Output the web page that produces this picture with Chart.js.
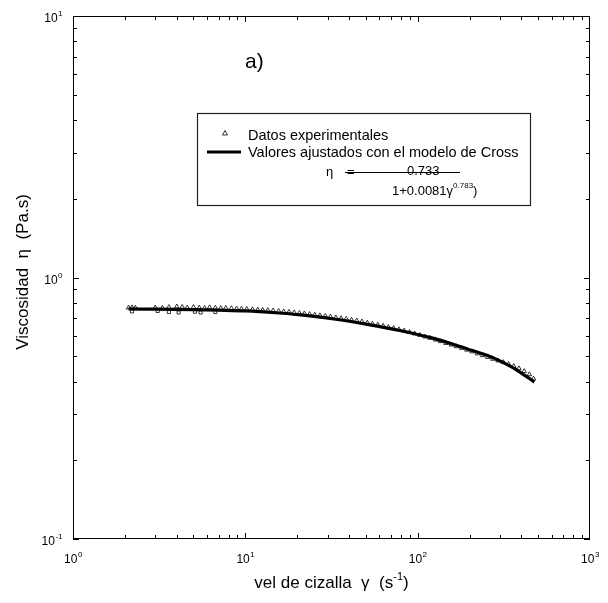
<!DOCTYPE html>
<html>
<head>
<meta charset="utf-8">
<script src="https://cdn.jsdelivr.net/npm/chart.js@4"></script>
<style>
  body { margin: 0; background: #fff; }
  #wrap { width: 608px; height: 603px; }
</style>
</head>
<body>
<div id="wrap"><canvas id="crossChart" width="608" height="603"></canvas></div>
<script>
// experimental data (triangles)
const shearExp = [2.1, 2.2, 2.3, 3.0, 3.3, 3.6, 4.0, 4.3, 4.6, 5.0, 5.4, 5.8, 6.2, 6.7, 7.2, 7.7, 8.3, 8.9, 9.5,
    10.2, 11, 11.8, 12.6, 13.5, 14.5, 15.6, 16.7, 17.9, 19.2, 20.6, 22, 23.6, 25.3, 27.1, 29.1, 31.2, 33.5,
    35.9, 38.5, 41.3, 44.3, 47.5, 51, 54.7, 58.7, 63, 67.6, 72.5, 77.8, 83.5, 89.6, 96, 103, 110, 118, 127,
    136, 146, 157, 168, 180, 193, 207, 222, 238, 255, 273, 293, 314, 337, 361, 387, 415, 445, 470];
const viscExp = [0.766, 0.768, 0.765, 0.767, 0.765, 0.770, 0.774, 0.771, 0.767, 0.770, 0.766, 0.764, 0.768,
    0.765, 0.763, 0.764, 0.762, 0.760, 0.759, 0.757, 0.755, 0.753, 0.751, 0.749, 0.747, 0.744, 0.741, 0.738,
    0.735, 0.731, 0.728, 0.724, 0.720, 0.716, 0.712, 0.708, 0.703, 0.698, 0.694, 0.689, 0.684, 0.678, 0.671,
    0.665, 0.659, 0.653, 0.646, 0.640, 0.633, 0.626, 0.618, 0.610, 0.602, 0.594, 0.587, 0.578, 0.570, 0.561,
    0.553, 0.545, 0.537, 0.529, 0.521, 0.512, 0.504, 0.496, 0.488, 0.481, 0.474, 0.466, 0.458, 0.449, 0.438,
    0.426, 0.410];

// low-shear points sitting under the fitted line
const shearRect = [2.2, 3.1, 3.6, 4.1, 5.1, 5.5, 6.7];
const viscRect = [0.742, 0.745, 0.738, 0.735, 0.740, 0.735, 0.738];

// fitted Cross model curve
const shearFit = [2.1, 3, 5, 7, 10, 15, 21, 32.6, 51, 80, 124, 194, 250, 304, 350, 397, 440, 475];
const viscFit = [0.758, 0.757, 0.754, 0.750, 0.745, 0.733, 0.719, 0.694, 0.662, 0.626, 0.585, 0.533,
    0.505, 0.478, 0.455, 0.432, 0.413, 0.398];

const xTicks = [1, 10, 100, 1000];
const xTickExp = ['0', '1', '2', '3'];
const yTicks = [0.1, 1, 10];
const yTickExp = ['-1', '0', '1'];

const FONT = 'Liberation Sans, Arial, sans-serif';

function toPoints(xs, ys) {
    return xs.map((x, i) => ({ x: x, y: ys[i] }));
}

function drawPow(ctx, base, exp, x, y, align) {
    ctx.font = '12px ' + FONT;
    const wb = ctx.measureText(base).width;
    ctx.font = '8px ' + FONT;
    const we = ctx.measureText(exp).width;
    let start = x;
    if (align === 'center') start = x - (wb + we) / 2;
    if (align === 'right') start = x - (wb + we);
    ctx.textAlign = 'left';
    ctx.textBaseline = 'middle';
    ctx.font = '12px ' + FONT;
    ctx.fillText(base, start, y);
    ctx.font = '8px ' + FONT;
    ctx.fillText(exp, start + wb + 0.5, y - 5);
}

const decorPlugin = {
    id: 'decor',
    afterDraw(chart) {
        const ctx = chart.ctx;
        const a = chart.chartArea;
        const xs = chart.scales.x;
        const ys = chart.scales.y;
        ctx.save();
        ctx.strokeStyle = '#000';
        ctx.fillStyle = '#000';
        ctx.lineWidth = 1;

        // frame
        ctx.strokeRect(a.left + 0.5, a.top + 0.5, a.right - a.left - 1, a.bottom - a.top - 1);

        // inward ticks
        ctx.beginPath();
        for (let d = 0; d < 3; d++) {
            for (let m = 1; m <= 9; m++) {
                const v = m * Math.pow(10, d);
                const px = Math.round(xs.getPixelForValue(v)) + 0.5;
                const len = m === 1 ? 6 : 4;
                ctx.moveTo(px, a.bottom); ctx.lineTo(px, a.bottom - len);
                ctx.moveTo(px, a.top); ctx.lineTo(px, a.top + len);
            }
        }
        for (let d = -1; d < 1; d++) {
            for (let m = 1; m <= 9; m++) {
                const v = m * Math.pow(10, d);
                const py = Math.round(ys.getPixelForValue(v)) + 0.5;
                const len = m === 1 ? 6 : 4;
                ctx.moveTo(a.left, py); ctx.lineTo(a.left + len, py);
                ctx.moveTo(a.right, py); ctx.lineTo(a.right - len, py);
            }
        }
        ctx.stroke();

        // tick labels
        xTicks.forEach((v, i) => {
            drawPow(ctx, '10', xTickExp[i], xs.getPixelForValue(v), a.bottom + 21, 'center');
        });
        yTicks.forEach((v, i) => {
            drawPow(ctx, '10', yTickExp[i], a.left - 11, ys.getPixelForValue(v) + 3, 'right');
        });

        // x axis title
        ctx.textBaseline = 'alphabetic';
        ctx.textAlign = 'left';
        ctx.font = '17px ' + FONT;
        const xt = 'vel de cizalla  \u03b3  (s';
        const wx = ctx.measureText(xt).width;
        ctx.font = '11px ' + FONT;
        const wsup = ctx.measureText('-1').width;
        ctx.font = '17px ' + FONT;
        const wpar = ctx.measureText(')').width;
        let sx = (a.left + a.right) / 2 - (wx + wsup + wpar) / 2;
        ctx.fillText(xt, sx, 588);
        ctx.font = '11px ' + FONT;
        ctx.fillText('-1', sx + wx, 580);
        ctx.font = '17px ' + FONT;
        ctx.fillText(')', sx + wx + wsup, 588);

        // y axis title
        ctx.save();
        ctx.translate(28, 272);
        ctx.rotate(-Math.PI / 2);
        ctx.textAlign = 'center';
        ctx.font = '17px ' + FONT;
        ctx.fillText('Viscosidad  \u03b7  (Pa.s)', 0, 0);
        ctx.restore();

        // panel label
        ctx.font = '21px ' + FONT;
        ctx.textAlign = 'left';
        ctx.fillText('a)', 245, 68);

        // legend box
        ctx.fillStyle = '#fff';
        ctx.fillRect(197, 113, 333, 92);
        ctx.strokeStyle = '#222';
        ctx.lineWidth = 1.2;
        ctx.strokeRect(197.5, 113.5, 333, 92);
        ctx.fillStyle = '#000';
        ctx.strokeStyle = '#000';

        // marker sample
        ctx.lineWidth = 0.8;
        ctx.beginPath();
        ctx.moveTo(225, 130.5); ctx.lineTo(227.5, 135); ctx.lineTo(222.5, 135); ctx.closePath();
        ctx.stroke();
        // line sample
        ctx.lineWidth = 3;
        ctx.beginPath();
        ctx.moveTo(207, 152); ctx.lineTo(241, 152);
        ctx.stroke();

        ctx.font = '14.5px ' + FONT;
        ctx.fillText('Datos experimentales', 248, 140);
        ctx.fillText('Valores ajustados con el modelo de Cross', 248, 157);

        // equation
        ctx.font = '13px ' + FONT;
        ctx.fillText('\u03b7', 326, 176);
        ctx.fillText('=', 347, 176);
        ctx.fillText('0.733', 407, 175);
        ctx.lineWidth = 1;
        ctx.beginPath();
        ctx.moveTo(345, 172.5); ctx.lineTo(460, 172.5);
        ctx.stroke();
        const den = '1+0.0081\u03b3';
        ctx.fillText(den, 392, 195);
        const wd = ctx.measureText(den).width;
        ctx.font = '8px ' + FONT;
        ctx.fillText('0.783', 392 + wd, 188);
        const ws = ctx.measureText('0.783').width;
        ctx.font = '13px ' + FONT;
        ctx.fillText(')', 392 + wd + ws, 195);

        ctx.restore();
    }
};

new Chart(document.getElementById('crossChart'), {
    type: 'scatter',
    data: {
        datasets: [
            {
                label: 'Valores ajustados con el modelo de Cross',
                data: toPoints(shearFit, viscFit),
                showLine: true,
                borderColor: '#000',
                borderWidth: 3.2,
                pointRadius: 0,
                tension: 0.3
            },
            {
                label: 'Datos experimentales',
                data: toPoints(shearExp, viscExp),
                pointStyle: 'triangle',
                pointRadius: 2.6,
                borderColor: '#000',
                backgroundColor: '#fff',
                borderWidth: 0.8
            },
            {
                label: 'bajo cizalla',
                data: toPoints(shearRect, viscRect),
                pointStyle: 'rect',
                pointRadius: 2.2,
                borderColor: '#000',
                backgroundColor: '#fff',
                borderWidth: 0.8
            }
        ]
    },
    options: {
        responsive: false,
        animation: false,
        layout: { padding: { left: 73, right: 18, top: 16, bottom: 64 } },
        plugins: {
            legend: { display: false },
            tooltip: { enabled: false }
        },
        scales: {
            x: {
                type: 'logarithmic',
                min: 1,
                max: 1000,
                grid: { display: false },
                border: { display: false },
                ticks: { display: false },
                afterFit: (scale) => { scale.height = 0; }
            },
            y: {
                type: 'logarithmic',
                min: 0.1,
                max: 10,
                grid: { display: false },
                border: { display: false },
                ticks: { display: false },
                afterFit: (scale) => { scale.width = 0; }
            }
        }
    },
    plugins: [decorPlugin]
});
</script>
</body>
</html>
